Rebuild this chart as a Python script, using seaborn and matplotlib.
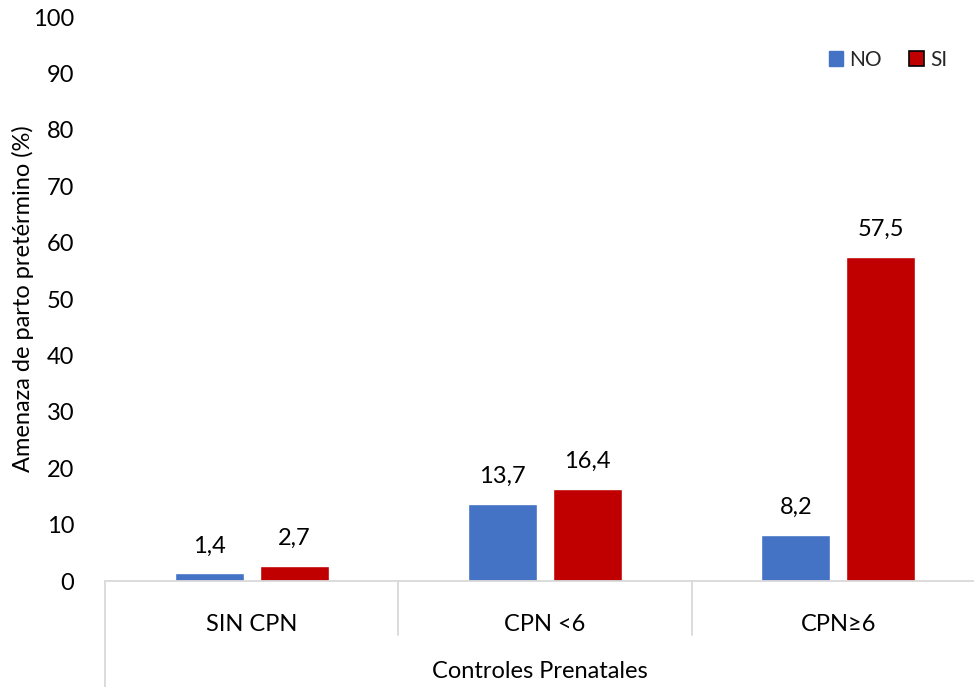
import matplotlib
matplotlib.use("Agg")
import matplotlib.pyplot as plt
import matplotlib.transforms as mtransforms
from matplotlib.patches import Patch
import pandas as pd
import seaborn as sns

categories = ["SIN CPN", "CPN <6", "CPN≥6"]
series_names = ["NO", "SI"]
values_no = [1.4, 13.7, 8.2]
values_si = [2.7, 16.4, 57.5]
y_ticks = [0, 10, 20, 30, 40, 50, 60, 70, 80, 90, 100]

colors = {"NO": "#4472C4", "SI": "#C00000"}

df = pd.DataFrame({
    "cat": categories * 2,
    "serie": [series_names[0]] * 3 + [series_names[1]] * 3,
    "valor": values_no + values_si,
})

sns.set_theme(style="white")
plt.rcParams["font.family"] = ["Lato", "DejaVu Sans"]

FS = 17

fig = plt.figure(figsize=(9.74, 6.87), dpi=100)
# plot area runs slightly past the right edge of the canvas
ax = fig.add_axes([105 / 974, 1 - 581 / 687, 880 / 974, 564 / 687])

sns.barplot(data=df, x="cat", y="valor", hue="serie", order=categories,
            hue_order=series_names, palette=colors, width=0.58, gap=0.19,
            saturation=1, ax=ax, legend=False)

ax.set_ylim(0, 100)
ax.set_xlim(-0.5, 2.5)
ax.set_yticks(y_ticks)
ax.set_yticklabels([str(t) for t in y_ticks], fontsize=FS, color="#000000")
ax.tick_params(axis="y", length=0, pad=22)
ax.tick_params(axis="x", length=0, pad=24, labelsize=FS, labelcolor="#000000")
ax.set_xlabel("")
ax.set_ylabel("Amenaza de parto pretérmino (%)", fontsize=FS, color="#000000")
ax.yaxis.label.set_va("center")
ax.yaxis.set_label_coords(-(105 - 23) / 880, 0.5)

for s in ["top", "right", "left"]:
    ax.spines[s].set_visible(False)
ax.spines["bottom"].set_color("#D9D9D9")
ax.spines["bottom"].set_linewidth(1.3)

# value labels, drawn from the bar heights
for container in ax.containers:
    labels = [f"{b.get_height():.1f}".replace(".", ",") for b in container]
    ax.bar_label(container, labels=labels, padding=12, fontsize=FS, color="#000000")

# category axis dividers
trans = mtransforms.blended_transform_factory(ax.transData, ax.transAxes)
ax.plot([-0.5, -0.5], [0, -0.19], transform=trans, color="#D9D9D9", lw=1.3, clip_on=False)
for xd in [0.5, 1.5]:
    ax.plot([xd, xd], [0, -0.096], transform=trans, color="#D9D9D9", lw=1.3, clip_on=False)

ax.text((539.5 - 105) / 880, -0.161, "Controles Prenatales", transform=ax.transAxes,
        ha="center", va="center", fontsize=FS, color="#000000")

handles = [Patch(facecolor=colors["NO"], edgecolor=colors["NO"], label="NO"),
           Patch(facecolor=colors["SI"], edgecolor="#000000", linewidth=1.2, label="SI")]
ax.legend(handles=handles, loc="upper right",
          bbox_to_anchor=((966 - 105) / 880, 0.975), ncol=2,
          frameon=False, fontsize=15, handlelength=0.7, handleheight=0.7,
          handletextpad=0.3, columnspacing=1.3)

fig.savefig("out.png", dpi=100)
